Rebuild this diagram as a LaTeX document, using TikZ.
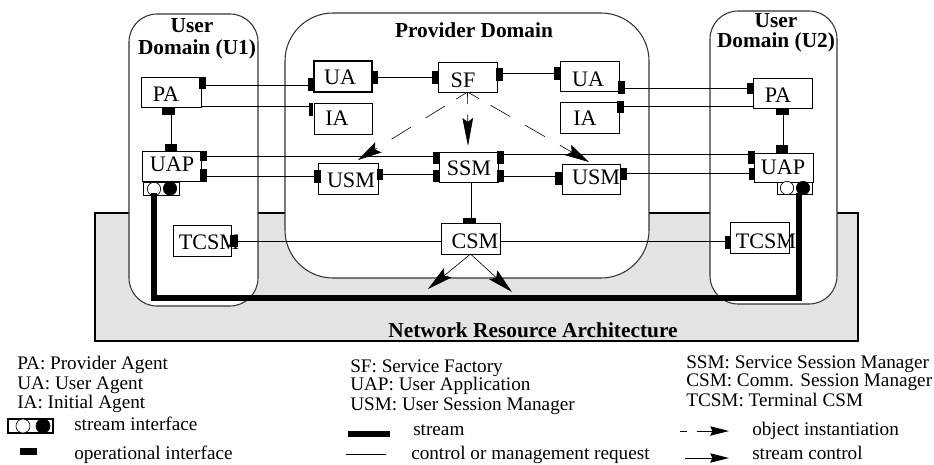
\documentclass[tikz,border=0pt]{standalone}
\usepackage{fontspec}
\setmainfont{Liberation Serif}
\usetikzlibrary{arrows.meta}
\tikzset{
  x=0.75pt,y=-0.75pt,
  conn/.style={line width=0.75pt},
  dashconn/.style={line width=0.45pt,-{Stealth[length=18pt,width=9pt,inset=3pt]}},
  csmconn/.style={line width=0.45pt,-{Stealth[length=19pt,width=9pt,inset=3pt]}},
  legarrow/.style={line width=0.75pt,-{Stealth[length=14pt,width=7pt,inset=1.5pt]}},
  streamline/.style={line width=3.9pt,line join=miter},
  domainbox/.style={draw=black!80,fill=white,line width=0.8pt,inner sep=0pt},
  objbox/.style={draw,fill=white,line width=0.75pt,inner sep=0pt,outer sep=0pt,font=\fontsize{16.6}{16.6}\selectfont},
  portbox/.style={fill=black,draw=none,inner sep=0pt,outer sep=0pt},
  titletext/.style={font=\fontsize{16}{16.5}\selectfont\bfseries,inner sep=0pt,align=center},
  legtext/.style={font=\fontsize{14.4}{14.4}\selectfont,anchor=west,inner sep=0pt,text height=0.86em,text depth=0pt},
  holeW/.style={circle,draw,fill=white,line width=0.5pt,inner sep=0pt,minimum size=10pt},
  holeB/.style={circle,draw,fill=black,line width=0.5pt,inner sep=0pt,minimum size=10pt},
  sbox/.style={draw,fill=white,line width=0.6pt,inner sep=0pt},
}
% name, x1,y1,x2,y2, label, label centre x, y, extra style
\newcommand\objnode[9]{%
  \pgfmathsetmacro\dxx{2*(#7-(#2+#4)/2)*0.75}%
  \pgfmathsetmacro\dyy{((#3+#5)/2-#8)*0.75}%
  \node[objbox,#9,minimum width={(#4-#2)*0.75pt},minimum height={(#5-#3)*0.75pt}] (#1) at ({(#2+#4)/2},{(#3+#5)/2})
    {\makebox[0pt]{\hspace*{\dxx pt}\raisebox{\dimexpr\dyy pt-0.33em\relax}[0pt][0pt]{#6}}};%
}
\newcommand\portnode[5]{%
  \node[portbox,minimum width={(#4-#2)*0.75pt},minimum height={(#5-#3)*0.75pt}] (#1) at ({(#2+#4)/2},{(#3+#5)/2}) {};%
}
\begin{document}
\begin{tikzpicture}
\useasboundingbox (0,0) rectangle (934,464);
% network
\node[draw,fill=black!11,line width=1.1pt,inner sep=0pt,outer sep=0pt,minimum width={763*0.75pt},minimum height={128*0.75pt}] (net) at (476.5,277) {};
% domains
\node[domainbox,rounded corners=21pt,minimum width={129*0.75pt},minimum height={292*0.75pt}] (u1) at (193.5,160) {};
\node[domainbox,rounded corners=36pt,minimum width={364*0.75pt},minimum height={265*0.75pt}] (prov) at (467,145.5) {};
\node[domainbox,rounded corners=21pt,minimum width={127*0.75pt},minimum height={293*0.75pt}] (u2) at (773.5,157.5) {};
% titles
\node[titletext] (t1) at (197,39) {User\hspace*{7.5pt}\\Domain (U1)};
\node[titletext] (t2) at (474,30) {Provider Domain};
\node[titletext,font=\fontsize{16}{15}\selectfont\bfseries] (t3) at (776,33) {User\\Domain (U2)};
\node[titletext] (t4) at (533,330) {Network Resource Architecture};
% boxes
\objnode{pa1}{141}{77}{201}{107}{PA}{166}{94}{}
\objnode{ua1}{314}{61}{372}{92}{UA}{340}{77}{line width=1.4pt}
\objnode{ia1}{314}{103}{372}{134}{IA}{337}{118}{}
\objnode{uap1}{142}{151}{201}{181}{UAP}{172}{164}{}
\objnode{usm1}{318}{163}{378}{194}{USM}{351}{180}{}
\objnode{sf}{438}{62}{497}{92}{SF}{463}{80}{}
\objnode{ua2}{560}{61}{619}{91}{UA}{588}{79}{}
\objnode{ia2}{560}{102}{619}{133}{IA}{585}{118}{}
\objnode{pa2}{753}{78}{812}{108}{PA}{778}{95}{}
\objnode{uap2}{754}{153}{813}{182}{UAP}{783}{167}{}
\objnode{ssm}{439}{152}{498}{182}{SSM}{469}{168}{}
\objnode{usm2}{562}{164}{620}{194}{USM}{596}{177}{}
\objnode{csm}{441}{223}{500}{254}{CSM}{475}{241}{}
\objnode{tcsm1}{173}{225}{231}{256}{TCSM}{209}{242}{}
\objnode{tcsm2}{730}{222}{789}{253}{TCSM}{766}{241}{}
% stream interfaces
\node[sbox,minimum width={36*0.75pt},minimum height={13*0.75pt}] (si1) at (161,188.5) {};
\node[holeW] (w1) at (154,189) {};
\node[holeB] (b1) at (170,188.5) {};
\node[sbox,minimum width={35*0.75pt},minimum height={12*0.75pt}] (si2) at (794.5,188) {};
\node[holeW] (w2) at (787,188) {};
\node[holeB] (b2) at (803,188) {};
% ports
\portnode{pa1r}{199}{77}{206}{89}
\portnode{pa1b}{162}{108}{175}{115}
\portnode{uap1t}{165}{144}{177}{151}
\portnode{uap1a}{200}{151}{207}{161}
\portnode{uap1c}{200}{169}{207}{182}
\portnode{ua1l}{308}{78}{314}{91}
\portnode{ua1r}{372}{71}{378}{84}
\portnode{ia1l}{309}{103}{313}{116}
\portnode{usm1l}{314}{170}{321}{183}
\portnode{usm1r}{377}{169}{383}{180}
\portnode{sfl}{432}{71}{438}{84}
\portnode{sfr}{496}{68}{503}{81}
\portnode{ua2l}{554}{67}{561}{80}
\portnode{ua2r}{618}{81}{625}{94}
\portnode{ia2r}{617}{101}{624}{113}
\portnode{pa2l}{747}{83}{753}{94}
\portnode{pa2b}{776}{109}{789}{115}
\portnode{uap2t}{776}{145}{788}{153}
\portnode{uap2a}{748}{151}{755}{164}
\portnode{uap2c}{749}{168}{754}{180}
\portnode{ssmla}{433}{152}{440}{164}
\portnode{ssmlc}{433}{170}{440}{182}
\portnode{ssmra}{497}{151}{504}{164}
\portnode{ssmrc}{497}{170}{504}{182}
\portnode{usm2l}{555}{172}{562}{185}
\portnode{usm2r}{620}{168}{627}{180}
\portnode{csmt}{463}{218}{476}{224}
\portnode{tcsm1r}{230}{235}{238}{247}
\portnode{tcsm2l}{725}{236}{731}{249}
% control connectors
\draw[conn] (pa1r.east |- 0,85) -- (ua1l.west |- 0,85);
\draw[conn] (pa1.east |- 0,106) -- (ia1l.west |- 0,106);
\draw[conn] (171,0 |- pa1b.south) -- (171,0 |- uap1t.north);
\draw[conn] (uap1a.east |- 0,156) -- (ssmla.west |- 0,156);
\draw[conn] (uap1c.east |- 0,176) -- (usm1l.west |- 0,176);
\draw[conn] (usm1r.east |- 0,174) -- (ssmlc.west |- 0,174);
\draw[conn] (ua1r.east |- 0,77) -- (sfl.west |- 0,77);
\draw[conn] (sfr.east |- 0,73) -- (ua2l.west |- 0,73);
\draw[conn] (ua2r.east |- 0,88) -- (pa2l.west |- 0,88);
\draw[conn] (ia2r.east |- 0,106) -- (pa2.west |- 0,106);
\draw[conn] (783,0 |- pa2b.south) -- (783,0 |- uap2t.north);
\draw[conn] (ssmra.east |- 0,154) -- (uap2a.west |- 0,154);
\draw[conn] (ssmrc.east |- 0,176) -- (usm2l.west |- 0,176);
\draw[conn] (usm2r.east |- 0,173) -- (uap2c.west |- 0,173);
\draw[conn] (471,0 |- ssm.south) -- (471,0 |- csmt.north);
\draw[conn] (tcsm1r.east |- 0,241) -- (csm.west |- 0,241);
\draw[conn] (csm.east |- 0,241) -- (tcsm2l.west |- 0,241);
% stream
\coordinate (sa) at (154,193);
\coordinate (sc) at (154,298);
\coordinate (sd) at (799,298);
\coordinate (sb) at (799,193);
\draw[streamline] (sa) -- (sc) -- (sd) -- (sb);
% instantiation
\coordinate (tipL) at (358,160);
\coordinate (tipM) at (468,146);
\coordinate (tipR) at (589,162);
\draw[dashconn,dash pattern=on 10pt off 10pt on 17pt off 13pt on 17pt off 13pt on 17pt off 13pt on 17pt off 13pt] (sf.south) -- (tipL);
\draw[dashconn,dash pattern=on 9pt off 8pt on 40pt off 40pt,-{Stealth[length=21pt,width=8pt,inset=3pt]}] (sf.south) -- (tipM);
\draw[dashconn,dash pattern=on 10pt off 10pt on 17pt off 13pt on 17pt off 13pt on 17pt off 13pt on 17pt off 13pt] (sf.south) -- (tipR);
% stream control
\coordinate (tipCL) at (428,289);
\coordinate (tipCR) at (512,292);
\draw[csmconn] (csm.south) -- (tipCL);
\draw[csmconn] (csm.south) -- (tipCR);
% legend
\node[legtext] (l1) at (17,364) {PA: Provider Agent};
\node[legtext] (l2) at (17,384) {UA: User Agent};
\node[legtext] (l3) at (17,403) {IA: Initial Agent};
\node[legtext] (l4) at (74,425) {stream interface};
\node[legtext] (l5) at (74,454) {operational interface};
\node[legtext] (m1) at (350,367) {SF: Service Factory};
\node[legtext] (m2) at (350,385) {UAP: User Application};
\node[legtext] (m3) at (350,405) {USM: User Session Manager};
\node[legtext] (m4) at (413,430) {stream};
\node[legtext] (m5) at (411,454) {control or management request};
\node[legtext] (r1) at (686,363) {SSM: Service Session Manager};
\node[legtext] (r2) at (686,381) {CSM: Comm. Session Manager};
\node[legtext] (r3) at (686,401) {TCSM: Terminal CSM};
\node[legtext] (r4) at (752,430) {object instantiation};
\node[legtext] (r5) at (752,454) {stream control};
\node[draw,fill=white,line width=1.1pt,inner sep=0pt,minimum width={45*0.75pt},minimum height={14*0.75pt}] (lsi) at (30.5,426) {};
\node[holeW,minimum size=10.5pt] (lw) at (23,426) {};
\node[holeB,minimum size=10.5pt] (lb) at (43,426) {};
\portnode{lop}{20}{448}{37}{455}
\coordinate (ls1) at (348,434); \coordinate (ls2) at (390,434);
\draw[line width=3.9pt] (ls1) -- (ls2);
\coordinate (lc1) at (346,454); \coordinate (lc2) at (386,454);
\draw[conn] (lc1) -- (lc2);
\coordinate (lo1) at (680,431); \coordinate (lo2) at (729,431);
\draw[legarrow,dash pattern=on 5.5pt off 7pt on 30pt] (lo1) -- (lo2);
\coordinate (lr1) at (685,458); \coordinate (lr2) at (729,458);
\draw[legarrow] (lr1) -- (lr2);
\end{tikzpicture}
\end{document}
